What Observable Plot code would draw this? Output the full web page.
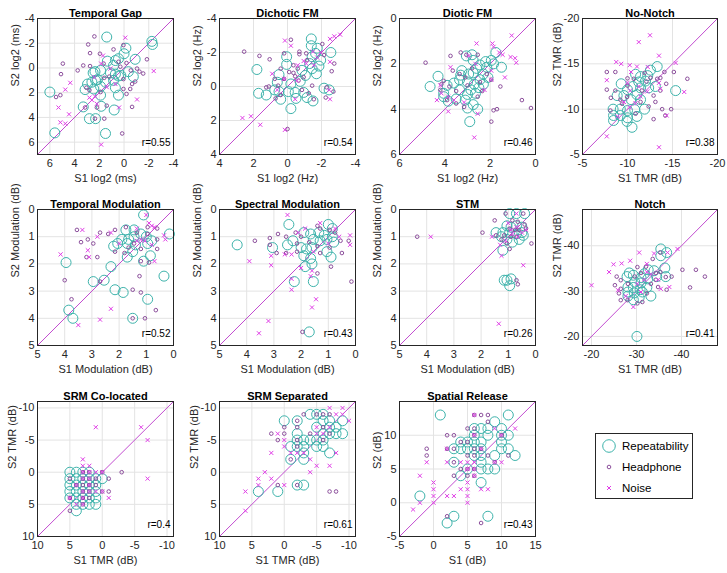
<!DOCTYPE html>
<html><head><meta charset="utf-8">
<script src="https://cdn.jsdelivr.net/npm/d3@7"></script>
<script src="https://cdn.jsdelivr.net/npm/@observablehq/plot@0.6"></script>
<style>
body{margin:0;background:#fff;}
#chart{position:relative;width:727px;height:573px;overflow:hidden;}
#chart svg{position:absolute;}
</style></head>
<body><div id="chart"></div>
<script>
// ---------- DATA ----------
const tgRep=[[1.4,-2.5],[-2.25,-2.15],[-2.3,-1.9],[-0.15,-1.6],[0,-1.15],[0.7,-0.6],[1.35,-0.55],[-0.9,-0.7],[0.45,-0.75],[0.85,-0.2],[1.9,0.2],[2.35,0.3],[2.5,0.4],[1.1,0.4],[0.7,0.5],[0.26,0.6],[-0.35,0.3],[-0.75,0.7],[2.3,1.0],[2.6,1.15],[2.95,1.3],[2.15,0.95],[1.5,1.15],[0.85,1.0],[0.45,0.65],[1.9,1.5],[2.45,1.7],[3.15,1.75],[0.7,1.6],[1.9,2.2],[0.45,2.2],[6.0,1.95],[3.3,3.15],[1.85,3.1],[0.8,3.4],[2.8,4.1],[2.3,4.1],[1.5,5.3],[5.6,5.25]];
const tgHp=[[2.4,-2.55],[2.9,-1.9],[2.75,-1.2],[1.95,-1.15],[0.85,-1.5],[0.05,-1.85],[-1.85,-0.7],[4.95,-0.35],[3.3,-0.2],[3.75,0.2],[5.1,0.5],[2.75,-0.15],[1.65,-0.35],[0.45,-0.5],[-0.2,-0.4],[0.3,-0.1],[-0.55,0.2],[-1.05,0.05],[-1.25,0.3],[-1.55,0.45],[1.6,0.8],[1.2,0.7],[0.05,0.9],[-0.9,1.1],[5.15,2.2],[5.5,2.35],[2.8,1.8],[1.9,1.95],[-0.2,2.1],[0.05,1.7],[3.15,3.2],[2.2,3.2],[1.4,3.05],[-0.65,3.15],[2.35,4.1],[1.6,4.1],[0.15,5.3],[3.05,1.6],[-0.5,1.7],[-0.65,1.3]];
const tgNoise=[[-0.1,-2.45],[-2.4,0.25],[1.7,-1.0],[1.85,-0.35],[4.35,1.2],[4.75,1.75],[2.8,2.4],[2.35,2.3],[2.6,2.6],[2.2,2.9],[5.3,3.2],[4.45,3.75],[5.15,4.4],[4.75,4.5],[0.4,3.2],[-1.05,2.55],[1.85,6.2],[1.4,1.55],[0.7,1.3],[1.1,0.05],[2.4,0.75]];

const dfRep=[[-1.4,-2.8],[-1.4,-2.4],[-1.75,-2.25],[-1.65,-1.95],[-2.55,-2.0],[-1.45,-1.75],[-1.95,-1.55],[-1.3,-1.35],[0.05,-1.75],[0.05,-1.3],[-1.85,-1.2],[-1.45,-1.05],[-0.85,-0.95],[-1.05,-0.65],[-1.7,-0.75],[1.8,-1.0],[0.5,-0.7],[0.6,-0.25],[-0.2,-0.15],[-0.75,-0.3],[1.7,0.4],[1.25,0.5],[0.75,0.2],[0.5,0.3],[0.4,0.75],[-0.05,0.3],[-0.45,0.35],[-0.5,0.7],[-0.95,0.35],[-1.15,0.65],[-1.5,0.85],[-0.2,1.3],[-2.15,0.1],[-2.45,0.2]];
const dfHp=[[2.55,-2.05],[1.65,-1.8],[1.05,-1.6],[0.2,-1.95],[-0.2,-2.75],[-0.7,-1.9],[-0.7,-2.05],[-1.1,-1.95],[-1.15,-1.55],[-0.35,-1.25],[-0.6,-1.05],[-0.35,-0.8],[-0.45,-0.6],[-0.65,-0.35],[0.4,-1.05],[0.75,-0.45],[0.2,-0.45],[-0.1,-0.85],[0.55,-0.05],[1.25,0.05],[0.7,0.7],[0.4,0.5],[-0.85,0.2],[-1.25,0.4],[-1.55,0.75],[-1.45,-0.05],[-2.6,-0.9],[-2.3,0.05],[-2.25,0.65],[-2.7,0.3],[0.0,2.5],[1.1,0.0],[-2.05,-2.5],[-2.15,-1.85],[-2.75,-1.35],[-0.95,-0.55]];
const dfNoise=[[0.15,-2.7],[-2.5,-2.8],[-3.1,-3.05],[-2.75,-2.95],[-1.5,-2.05],[-1.75,-1.7],[-1.1,-1.35],[-0.95,-1.5],[-0.6,-1.25],[-2.5,-1.45],[-1.95,-2.0],[-0.2,-2.4],[0.2,-0.45],[0.9,-0.75],[0.6,0.2],[-0.45,0.75],[-2.5,0.75],[-2.45,0.2],[2.65,1.85],[2.15,1.75],[1.6,2.25],[0.15,2.55],[-0.55,-0.35],[-1.55,-1.25]];

const doRep=[[1.75,1.5],[1.95,1.85],[2.2,1.9],[2.45,2.05],[2.75,1.85],[2.8,1.6],[3.05,1.65],[2.6,2.2],[2.15,2.15],[1.85,2.0],[1.5,2.15],[3.25,2.3],[3.3,2.5],[2.95,2.45],[2.75,2.4],[2.3,2.45],[2.1,2.6],[2.45,2.7],[3.6,2.85],[3.9,2.95],[4.3,2.55],[4.65,3.0],[3.35,2.7],[3.0,2.8],[2.7,2.9],[2.5,3.05],[2.85,3.15],[2.65,3.3],[3.0,3.35],[3.35,3.15],[4.05,3.45],[3.85,3.65],[3.5,3.55],[3.1,3.6],[2.75,3.8],[3.0,3.95],[2.55,4.0],[2.9,4.55],[4.05,3.3],[2.3,2.9]];
const doHp=[[4.85,1.95],[3.75,1.65],[3.3,1.5],[3.05,1.6],[2.55,1.6],[3.65,2.3],[3.35,2.45],[3.1,2.6],[4.05,2.75],[4.15,2.9],[4.2,3.15],[3.8,3.0],[3.5,3.2],[3.5,3.75],[3.15,3.9],[3.0,2.95],[2.45,2.8],[2.15,2.45],[1.95,2.7],[1.55,3.0],[2.8,2.2],[1.85,4.05],[1.7,4.0],[1.95,4.55],[0.6,3.6],[0.2,3.95],[3.9,3.6],[2.55,3.45],[2.35,3.2]];
const doNoise=[[1.05,0.75],[2.6,1.1],[1.9,1.1],[1.85,1.25],[1.6,1.5],[1.45,1.6],[1.1,1.7],[0.9,1.75],[0.85,1.95],[2.95,1.65],[3.75,2.15],[2.65,2.0],[1.95,2.3],[1.35,2.6],[1.95,2.7],[4.15,3.3],[3.85,3.45],[3.6,3.6],[4.35,3.6],[3.85,4.1],[3.15,3.7],[2.55,4.2],[2.7,5.25],[2.25,3.15],[4.2,2.95]];

const nnRep=[[-13.3,-14.7],[-12.55,-14.3],[-12.25,-13.7],[-11.45,-13.6],[-10.9,-13.85],[-12.0,-13.1],[-11.25,-13.0],[-9.3,-12.8],[-10.0,-12.15],[-10.6,-12.5],[-11.45,-12.35],[-12.35,-12.35],[-13.1,-12.5],[-15.35,-12.05],[-8.85,-11.5],[-9.6,-11.5],[-11.05,-11.6],[-10.4,-11.05],[-11.45,-11.05],[-8.4,-10.0],[-9.2,-10.0],[-10.0,-9.85],[-10.8,-9.95],[-11.9,-10.0],[-8.45,-9.3],[-9.2,-9.3],[-10.0,-9.05],[-11.05,-9.2],[-8.45,-8.75],[-9.95,-8.65],[-10.5,-8.0]];
const nnHp=[[-7.7,-14.1],[-8.65,-14.1],[-10.0,-13.4],[-10.7,-13.35],[-11.9,-14.0],[-12.55,-13.45],[-13.3,-13.35],[-14.1,-14.1],[-15.15,-14.1],[-16.65,-13.35],[-10.0,-12.6],[-8.65,-12.05],[-7.7,-12.15],[-8.15,-11.25],[-9.95,-11.35],[-11.6,-12.05],[-12.9,-11.5],[-13.65,-12.05],[-14.3,-12.8],[-13.1,-10.8],[-12.35,-10.3],[-13.85,-10.0],[-14.85,-10.0],[-14.2,-9.3],[-12.9,-8.9],[-11.45,-10.8],[-8.1,-9.85],[-9.4,-10.6],[-10.9,-9.5],[-13.65,-13.45],[-12.1,-13.05],[-9.2,-11.05]];
const nnNoise=[[-11.25,-17.4],[-12.5,-18.15],[-8.75,-15.2],[-9.3,-15.0],[-10.25,-14.85],[-11.05,-14.7],[-12.25,-14.65],[-13.5,-15.9],[-15.35,-15.1],[-7.7,-13.2],[-10.4,-14.1],[-10.0,-12.9],[-10.3,-12.05],[-11.25,-12.5],[-12.2,-11.95],[-13.5,-12.9],[-13.65,-12.25],[-16.3,-11.9],[-9.6,-10.8],[-10.25,-10.2],[-10.9,-10.65],[-8.9,-9.2],[-14.35,-9.3],[-7.7,-7.0],[-13.5,-5.8],[-11.45,-11.4]];

const tmRep=[[1.1,0.2],[1.75,0.75],[1.45,0.75],[1.2,0.9],[1.45,1.0],[1.65,1.1],[1.9,1.1],[2.05,1.25],[1.7,1.25],[1.4,1.3],[1.0,1.0],[0.95,1.25],[0.8,1.15],[0.15,0.9],[2.2,1.35],[1.5,1.55],[1.7,1.75],[0.85,1.7],[1.1,1.9],[3.95,1.95],[2.3,2.1],[0.35,2.45],[2.95,2.65],[2.55,2.6],[2.15,2.95],[1.85,3.05],[0.95,3.3],[3.85,3.7],[3.7,4.0],[1.5,4.0]];
const tmHp=[[3.55,0.75],[3.4,1.2],[3.15,1.1],[2.95,1.25],[2.7,0.85],[2.4,0.9],[2.15,0.75],[1.75,0.65],[1.35,0.85],[0.95,0.9],[0.6,0.7],[0.6,1.1],[0.6,1.45],[1.45,1.25],[1.2,1.45],[1.8,1.6],[2.15,1.55],[2.8,1.75],[3.2,1.75],[1.2,1.9],[0.9,1.95],[4.0,2.6],[3.75,3.3],[2.7,2.65],[1.25,2.45],[1.2,3.05],[1.5,2.95],[1.05,4.0],[1.5,4.0],[0.65,3.7],[0.95,0.65],[1.65,1.4]];
const tmNoise=[[3.35,0.75],[4.15,1.65],[3.15,1.5],[3.1,1.75],[2.8,1.0],[2.3,0.85],[2.0,1.25],[1.0,0.2],[0.9,0.5],[0.8,0.6],[0.7,0.65],[1.35,0.7],[1.2,1.1],[1.05,1.15],[0.8,1.3],[0.7,1.9],[0.35,0.95],[0.3,1.1],[2.3,3.65],[3.5,4.25],[2.7,4.05],[1.35,1.15]];

const smRep=[[2.45,0.55],[1.0,0.55],[0.85,0.7],[1.9,0.85],[1.65,0.9],[1.35,0.85],[1.15,0.95],[1.55,1.1],[1.3,1.15],[1.05,1.1],[0.85,1.0],[0.8,1.2],[2.3,1.15],[2.5,1.3],[4.35,1.3],[3.05,1.4],[2.0,1.4],[1.8,1.45],[1.6,1.4],[1.05,1.55],[1.9,1.7],[1.65,1.8],[1.6,2.0],[1.85,2.1],[0.9,1.75],[2.25,2.65],[1.55,2.65],[1.7,4.5]];
const smHp=[[3.7,1.15],[3.15,1.05],[2.85,0.9],[2.55,1.0],[2.2,0.85],[2.0,1.0],[2.15,1.25],[2.9,1.6],[2.55,1.6],[2.15,1.55],[1.7,1.2],[1.4,0.6],[1.3,0.7],[0.95,0.75],[0.75,0.85],[0.5,1.6],[0.55,1.15],[1.4,1.35],[1.3,1.6],[0.95,1.4],[0.25,1.15],[0.9,2.1],[0.15,2.65],[1.95,4.5],[3.15,1.3],[1.4,2.35]];
const smNoise=[[2.5,0.2],[2.1,0.85],[1.85,0.7],[1.3,0.5],[0.75,0.7],[0.6,1.0],[0.2,0.95],[0.2,1.3],[2.35,1.65],[2.6,1.65],[3.1,1.7],[3.1,2.05],[3.9,1.9],[2.0,2.15],[1.55,1.55],[1.6,2.25],[2.35,2.55],[2.35,2.95],[1.65,2.45],[1.45,3.3],[1.6,3.6],[3.2,4.1],[3.55,4.55],[1.0,1.25]];

const stmRep=[[0.95,0.15],[0.7,0.15],[0.4,0.15],[1.05,0.6],[0.9,0.65],[0.7,0.6],[0.5,0.65],[1.2,0.85],[0.95,0.85],[0.7,0.9],[0.5,0.85],[1.45,0.85],[1.25,1.0],[1.05,1.1],[0.85,1.2],[0.6,1.1],[1.2,1.5],[1.05,2.6],[0.9,2.55],[0.95,2.8],[1.15,2.6],[0.45,0.95]];
const stmHp=[[1.5,0.4],[1.95,0.85],[1.45,0.95],[1.1,0.15],[0.45,0.15],[0.85,0.4],[0.65,0.45],[0.95,0.7],[0.75,0.75],[0.6,0.75],[0.35,0.7],[1.15,0.95],[0.9,1.0],[0.7,1.0],[1.05,1.25],[0.15,1.25],[0.95,1.45],[4.35,1.0],[0.7,2.6],[0.65,2.75],[1.25,1.1],[0.4,0.55]];
const stmNoise=[[3.85,1.0],[1.6,1.0],[1.3,1.3],[1.25,1.7],[1.1,1.15],[0.9,0.75],[0.7,0.65],[0.5,0.85],[0.35,0.75],[1.0,0.5],[0.7,0.15],[0.45,2.05],[1.35,4.2],[0.85,0.9],[0.65,1.0]];

const noRep=[[-35.4,-39.3],[-35.4,-37.8],[-36.7,-38.5],[-28.4,-34.0],[-29.3,-33.5],[-27.9,-33.2],[-32.6,-34.7],[-33.9,-34.5],[-31.7,-33.8],[-31.0,-32.95],[-32.5,-32.7],[-34.5,-33.2],[-36.3,-35.1],[-36.5,-33.2],[-29.6,-32.0],[-31.0,-31.8],[-28.1,-30.9],[-29.3,-30.8],[-30.8,-30.3],[-32.3,-30.8],[-28.1,-29.8],[-29.5,-29.6],[-31.3,-29.8],[-28.1,-28.9],[-30.6,-28.6],[-29.3,-28.1],[-33.2,-28.9],[-30.1,-20.0]];
const noHp=[[-25.6,-33.2],[-26.5,-32.4],[-25.2,-31.3],[-26.5,-30.5],[-26.1,-29.5],[-26.5,-28.0],[-28.0,-28.0],[-28.1,-31.6],[-30.2,-35.3],[-31.0,-34.0],[-32.1,-35.4],[-33.6,-37.1],[-35.3,-38.5],[-34.3,-34.0],[-35.3,-34.2],[-36.5,-33.1],[-37.8,-33.2],[-40.2,-34.7],[-43.2,-34.7],[-41.9,-30.8],[-45.2,-33.2],[-33.2,-31.6],[-34.8,-30.9],[-36.7,-30.3],[-32.3,-29.5],[-30.2,-27.3],[-31.3,-27.6],[-34.3,-32.5],[-29.6,-33.2]];
const noNoise=[[-24.9,-35.9],[-26.7,-36.1],[-28.6,-36.7],[-23.9,-34.2],[-30.6,-38.5],[-32.3,-36.0],[-33.9,-38.3],[-36.9,-38.5],[-39.1,-39.3],[-20.0,-31.3],[-25.9,-30.2],[-27.6,-28.9],[-29.3,-26.5],[-30.2,-31.6],[-31.7,-32.5],[-33.2,-33.7],[-34.8,-32.5],[-35.4,-30.5],[-37.3,-30.9],[-31.0,-29.8],[-32.3,-34.2]];

const scRep=[[5,0],[4,0],[3,0],[2,0],[5,1],[4,1],[3,1],[2,1],[1,1],[0,1],[5,2],[4,2],[3,2],[2,2],[1,2],[5,3],[4,3],[3,3],[2,3],[1,3],[5,4],[4,4],[3,4],[2,4],[1,4],[4,5],[3,5],[2,5],[1,5],[4,6]];
const scHp=[[5,1],[3,0],[2,0],[0,0],[-1,1],[-1,3],[-3,0],[5,6],[3,1],[2,1],[3,2],[2,2],[4,2],[1,2],[3,3],[2,3],[0,3],[3,4],[2,4],[5,4],[3,5],[1,1]];
const scNoise=[[1,-7],[-6,-7],[-7,-5],[-7,1],[3,-2],[3,-1],[2,-1],[1,0],[3,0],[2,0],[0,0],[4,2],[3,1],[2,1],[3,3],[2,3],[1,3],[0,3],[-1,4],[5,4],[4,5],[3,5],[2,2],[3,4]];

const ssRep=[[0,-8],[-4,-9],[-5,-9],[-6,-9],[-2,-8],[-6,-8],[-7,-8],[-9,-8],[-5,-7],[-7,-7],[-8,-7],[-6,-6],[-7,-6],[-8,-6],[-9,-6],[-2,-6],[-2,-5],[-3,-5],[-5,-5],[-6,-5],[-1,-4],[-2,-4],[-3,-4],[-5,-4],[-6,-4],[-3,-3],[-7,-3],[-1,-2],[-3,-2],[-2,2],[-3,2],[4,3],[1,3],[-4,-5]];
const ssHp=[[-3,-9],[0,-7],[2,-6],[0,-6],[1,-5],[-2,-8],[-5,-9],[-6,-9],[-7,-9],[-2,-7],[-6,-7],[-4,-6],[-7,-6],[-2,-5],[-6,-5],[-2,-4],[-1,-2],[1,2],[-2,2],[-7,3],[-8,3]];
const ssNoise=[[-7,-10],[-9,-10],[-8,-9],[-9,-9],[-10,-8],[1,-6],[0,-5],[2,-3],[-1,-3],[-2,-3],[-3,-3],[-4,-2],[-5,-1],[-7,-1],[-8,-3],[-5,-7],[-7,-7],[3,0],[4,1],[2,1],[4,2],[0,2],[6,3],[6,6],[-4,0],[0,-4],[-6,-6],[-5,-6]];

const spRep=[[1,13],[11,13],[9,12],[7,11],[8,11],[10,11],[6,11],[8,10],[10,10],[11,10],[6,10],[4,9],[5,9],[6,9],[7,9],[10,9],[3,8],[4,8],[5,8],[6,8],[7,8],[10,8],[11,8],[6,7],[7,7],[9,7],[12,7],[3,6],[7,6],[5,5],[7,5],[8,5],[9,5],[4,4],[7,3],[-2,1],[3,-2],[2,-3],[8,-2]];
const spHp=[[6,13],[7,13],[8,13],[8,12],[5,11],[6,11],[2,10],[3,10],[6,10],[10,10],[-1,8],[-1,7],[2,8],[3,8],[4,9],[5,9],[6,8],[7,8],[5,7],[6,7],[8,7],[11,7],[3,6],[9,6],[4,5],[5,5],[6,5],[3,4],[5,4],[6,4],[2,-2],[7,-3]];
const spNoise=[[6,13],[9,11],[12,11],[6,10],[10,10],[2,8],[7,8],[-1,6],[2,6],[4,6],[5,6],[6,6],[9,6],[10,6],[5,5],[6,5],[-2,4],[0,3],[0,2],[0,1],[0,0],[-2,0],[-3,-1],[2,1],[3,1],[5,3],[5,2],[5,1],[5,0],[7,2],[8,2],[4,2],[6,4]];

const titles=["Temporal Gap","Dichotic FM","Diotic FM","No-Notch","Temporal Modulation","Spectral Modulation","STM","Notch","SRM Co-located","SRM Separated","Spatial Release"];
const xLabels=["S1 log2 (ms)","S1 log2 (Hz)","S1 log2 (Hz)","S1 TMR (dB)","S1 Modulation (dB)","S1 Modulation (dB)","S1 Modulation (dB)","S1 TMR (dB)","S1 TMR (dB)","S1 TMR (dB)","S1 (dB)"];
const yLabels=["S2 log2 (ms)","S2 log2 (Hz)","S2 log2 (Hz)","S2 TMR (dB)","S2 Modulation (dB)","S2 Modulation (dB)","S2 Modulation (dB)","S2 TMR (dB)","S2 TMR (dB)","S2 TMR (dB)","S2 (dB)"];
const rLabels=["r=0.55","r=0.54","r=0.46","r=0.38","r=0.52","r=0.43","r=0.26","r=0.41","r=0.4","r=0.61","r=0.43"];
const xDomains=[[7,-4],[4,-4],[6,0],[-5,-20],[5,0],[5,0],[5,0],[-18,-48],[10,-11],[10,-11],[-5,15]];
const yDomains=[[7,-4],[4,-4],[6,0],[-5,-20],[5,0],[5,0],[5,0],[-18,-48],[10,-11],[10,-11],[-5,15]];
const xTicks=[[6,4,2,0,-2,-4],[4,2,0,-2,-4],[6,4,2,0],[-5,-10,-15,-20],[5,4,3,2,1,0],[5,4,3,2,1,0],[5,4,3,2,1,0],[-20,-30,-40],[10,5,0,-5,-10],[10,5,0,-5,-10],[-5,0,5,10,15]];
const yTicks=[[-4,-2,0,2,4,6],[-4,-2,0,2,4],[0,2,4,6],[-20,-15,-10,-5],[0,1,2,3,4,5],[0,1,2,3,4,5],[0,1,2,3,4,5],[-40,-30,-20],[-10,-5,0,5,10],[-10,-5,0,5,10],[-5,0,5,10]];
const repSets=[tgRep,dfRep,doRep,nnRep,tmRep,smRep,stmRep,noRep,scRep,ssRep,spRep];
const hpSets=[tgHp,dfHp,doHp,nnHp,tmHp,smHp,stmHp,noHp,scHp,ssHp,spHp];
const noiseSets=[tgNoise,dfNoise,doNoise,nnNoise,tmNoise,smNoise,stmNoise,noNoise,scNoise,ssNoise,spNoise];
const legendLabels=["Repeatability","Headphone","Noise"];

// ---------- STYLE / LAYOUT ----------
const FONT="'Liberation Sans', Arial, Helvetica, sans-serif";
const TEAL="#3db3ab", PURPLE="#8c4f9c", MAGENTA="#e03ee6", DIAG="#c24cd0";
const boxLefts=[37,219,399,582], boxTops=[18,209,401];
const ML=44, MR=8, MT=20, MB=36;

const chart=document.getElementById("chart");
titles.forEach((title,i)=>{
  const col=i%4, row=Math.floor(i/4);
  const bw = col===3 ? 135 : 136, bh = row===2 ? 135 : 136;
  const xd=xDomains[i], yd=yDomains[i];
  const lo=Math.max(Math.min(...xd),Math.min(...yd)), hi=Math.min(Math.max(...xd),Math.max(...yd));
  const diag=[[lo,lo],[hi,hi]];
  const fmt=d=>String(d);
  const maxLen=Math.max(...yTicks[i].map(t=>String(t).length));
  const ylabDx = maxLen>=3 ? -25 : -22;
  const svg=Plot.plot({
    width:bw+ML+MR, height:bh+MT+MB,
    marginLeft:ML, marginRight:MR, marginTop:MT, marginBottom:MB,
    style:{fontFamily:FONT, fontSize:"11px", color:"#262626", background:"transparent", overflow:"visible"},
    x:{domain:xd, label:null},
    y:{domain:yd, label:null},
    marks:[
      Plot.gridX(xTicks[i],{stroke:"#e3e3e3", strokeOpacity:1}),
      Plot.gridY(yTicks[i],{stroke:"#e3e3e3", strokeOpacity:1}),
      Plot.line(diag,{x:d=>d[0], y:d=>d[1], stroke:DIAG, strokeWidth:1}),
      Plot.dot(repSets[i],{x:d=>d[0], y:d=>d[1], r:5, stroke:TEAL, fill:"none", strokeWidth:1}),
      Plot.dot(hpSets[i],{x:d=>d[0], y:d=>d[1], r:1.8, stroke:PURPLE, fill:"none", strokeWidth:1}),
      Plot.dot(noiseSets[i],{x:d=>d[0], y:d=>d[1], r:2, symbol:"times", stroke:MAGENTA, strokeWidth:1}),
      Plot.axisX({ticks:xTicks[i], tickSize:0, tickPadding:5, tickFormat:fmt, label:null, fontSize:11, fill:"#262626"}),
      Plot.axisY({ticks:yTicks[i], tickSize:0, tickPadding:3, tickFormat:fmt, label:null, fontSize:11, fill:"#262626"}),
      Plot.frame({stroke:"#262626", strokeWidth:1}),
      Plot.text([title],{text:d=>d, frameAnchor:"top", dy:-9.5, fontWeight:"bold", fontSize:11, fill:"#000"}),
      Plot.text([xLabels[i]],{text:d=>d, frameAnchor:"bottom", dy:27, fontSize:11, fill:"#262626"}),
      Plot.text([yLabels[i]],{text:d=>d, frameAnchor:"left", dx:ylabDx, rotate:-90, fontSize:11, fill:"#262626"}),
      Plot.text([rLabels[i]],{text:d=>d, frameAnchor:"bottom-right", dx:-3, dy:-9, textAnchor:"end", fontSize:10, fill:"#000"})
    ]
  });
  svg.style.left=(boxLefts[col]-ML)+"px";
  svg.style.top=(boxTops[row]-MT)+"px";
  chart.appendChild(svg);
});

// ---------- LEGEND ----------
const lg=d3.create("svg").attr("width",99).attr("height",67)
  .style("left","595px").style("top","433px");
lg.append("rect").attr("x",0.5).attr("y",0.5).attr("width",97).attr("height",65)
  .attr("fill","#fff").attr("stroke","#262626");
const rowsY=[13,34,55];
lg.append("circle").attr("cx",14).attr("cy",rowsY[0]).attr("r",6.3).attr("fill","none").attr("stroke",TEAL);
lg.append("circle").attr("cx",14).attr("cy",rowsY[1]).attr("r",1.8).attr("fill","none").attr("stroke",PURPLE);
lg.append("path").attr("d",`M12,${rowsY[2]-2}L16,${rowsY[2]+2}M12,${rowsY[2]+2}L16,${rowsY[2]-2}`).attr("stroke",MAGENTA);
legendLabels.forEach((t,k)=>{
  lg.append("text").attr("x",27).attr("y",rowsY[k]).attr("dy","0.35em")
    .attr("font-family",FONT).attr("font-size",11.5).attr("fill","#000").text(t);
});
chart.appendChild(lg.node());
</script></body></html>
